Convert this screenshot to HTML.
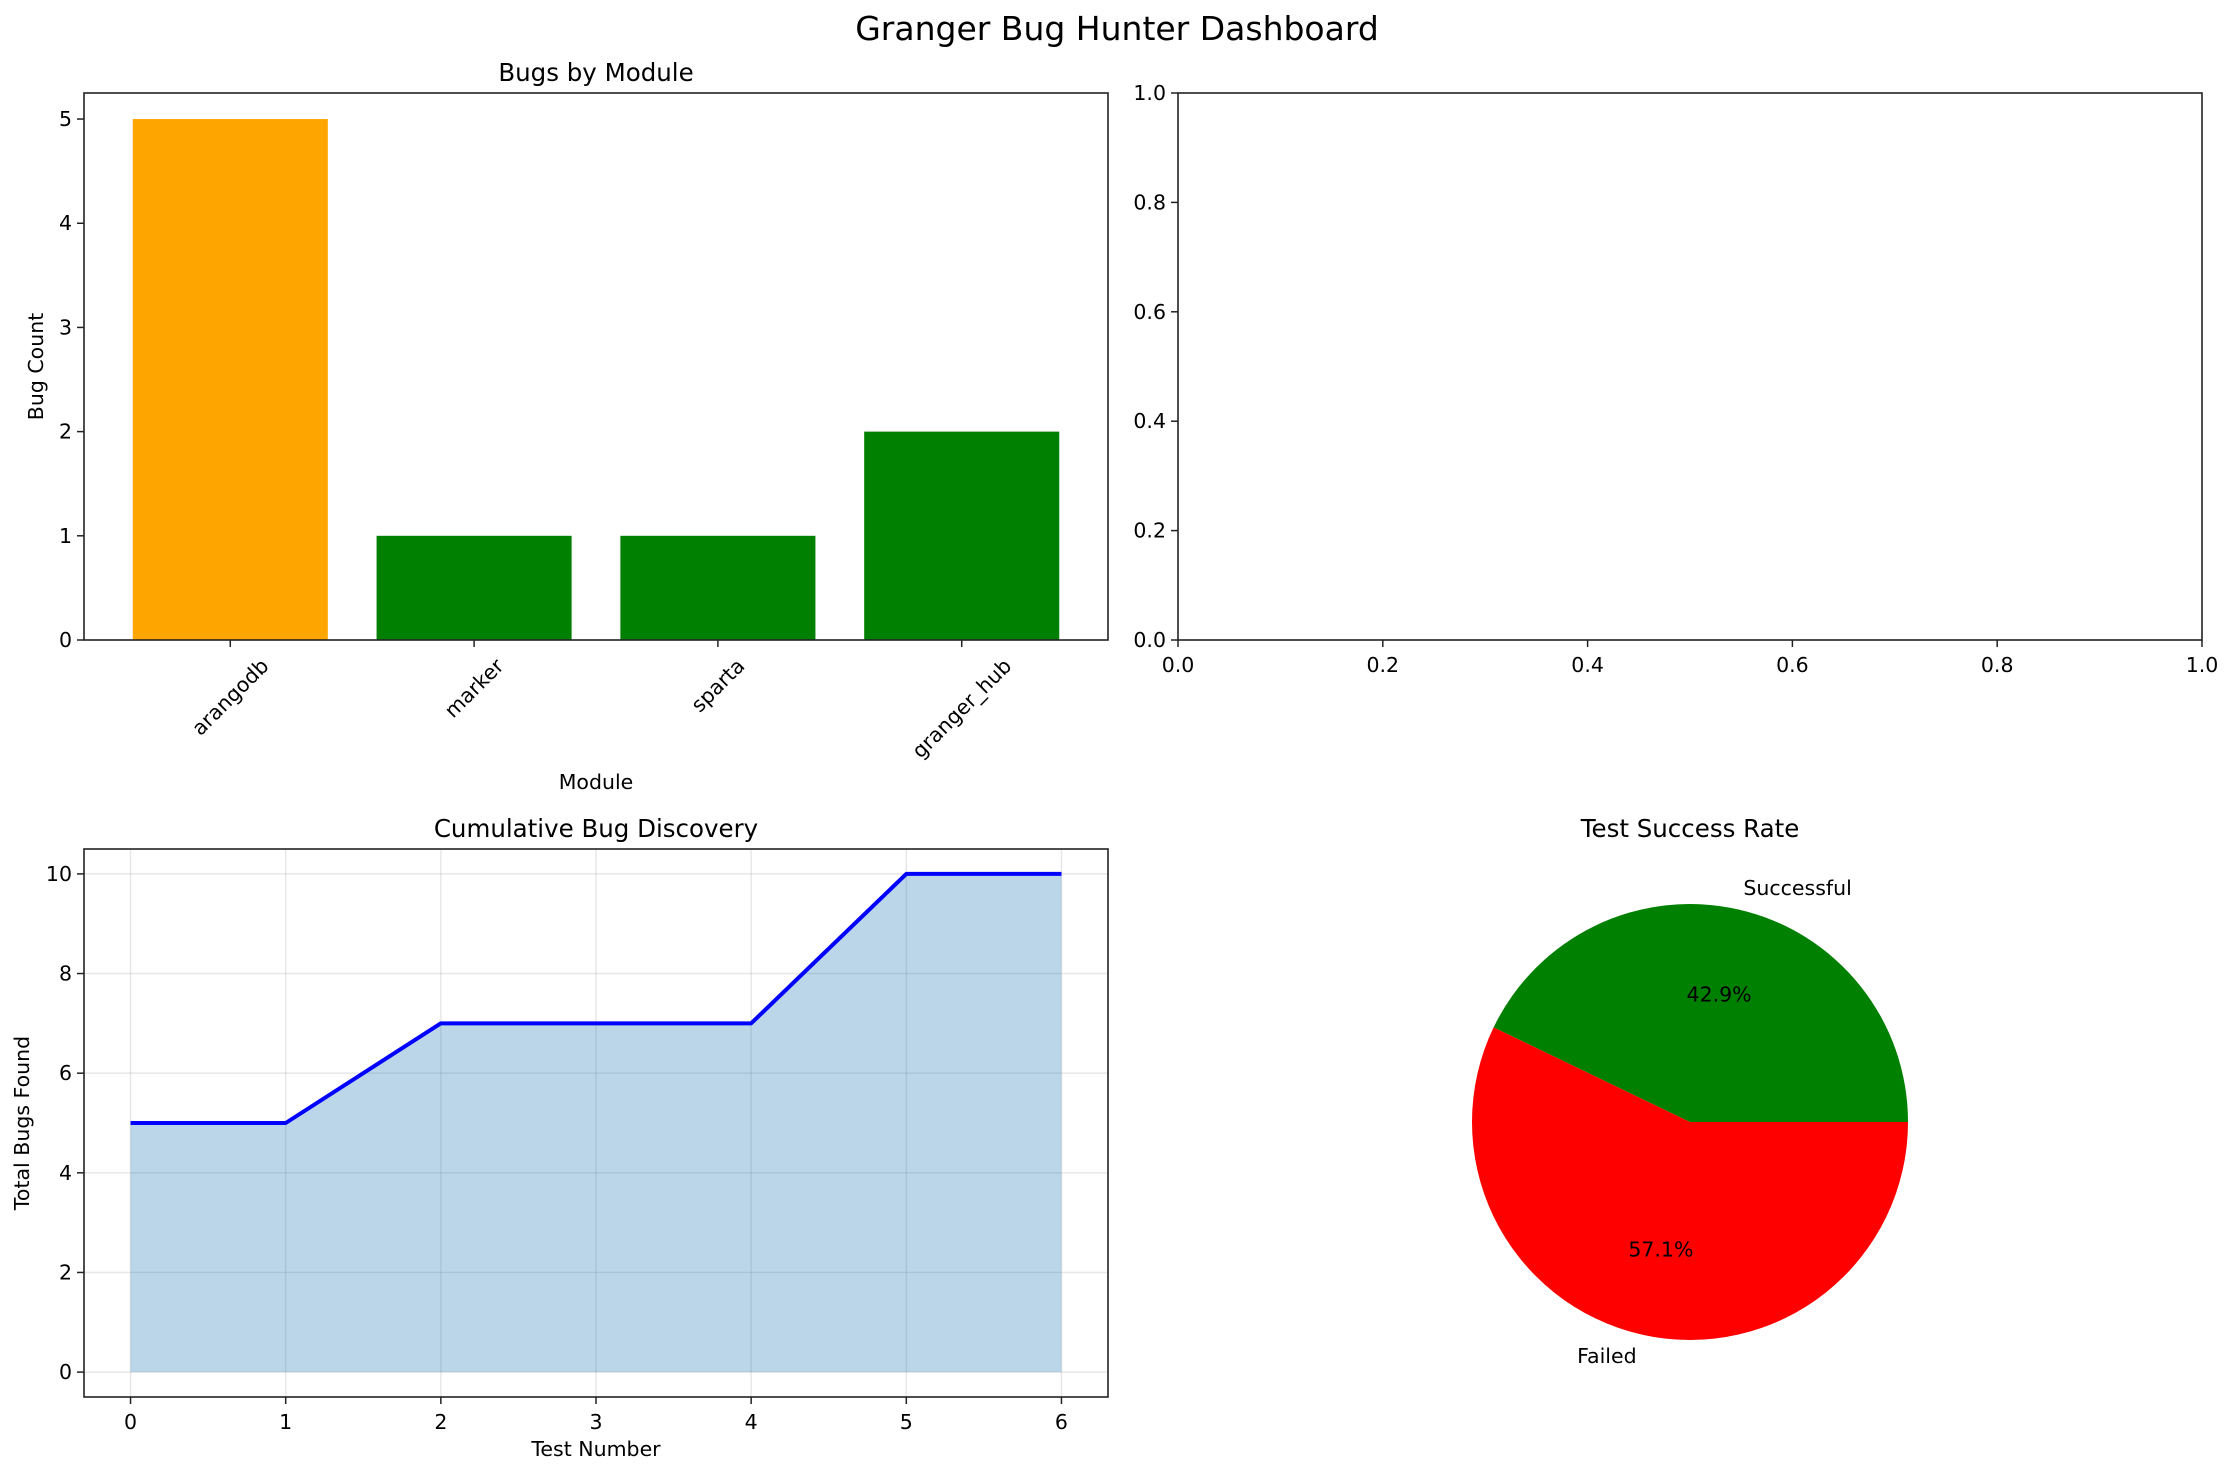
<!DOCTYPE html>
<html><head><meta charset="utf-8"><style>
html,body{margin:0;padding:0;background:#fff;}
svg text{font-family:"DejaVu Sans","Liberation Sans",sans-serif;fill:#000;}
</style></head><body>
<svg id="fig" width="2234" height="1475" viewBox="0 0 2234 1475" xmlns="http://www.w3.org/2000/svg">
<rect width="2234" height="1475" fill="#fff"/>
<text x="1117" y="40" font-size="33" text-anchor="middle">Granger Bug Hunter Dashboard</text>
</svg>
<script>
const modules = ["arangodb","marker","sparta","granger_hub"];
const bugCounts = [5,1,1,2];
const barColors = ["#ffa500","#008000","#008000","#008000"];
const barYTicks = [0,1,2,3,4,5];
const emptyTicks = ["0.0","0.2","0.4","0.6","0.8","1.0"];
const testNumbers = [0,1,2,3,4,5,6];
const cumulativeBugs = [5,5,7,7,7,10,10];
const cumYTicks = [0,2,4,6,8,10];
const pieLabels = ["Successful","Failed"];
const pieValues = [3,4];
const pieColors = ["#008000","#ff0000"];

const NS="http://www.w3.org/2000/svg";
const svg=document.getElementById('fig');
function el(tag,attrs,parent){const e=document.createElementNS(NS,tag);for(const k in attrs)e.setAttribute(k,attrs[k]);(parent||svg).appendChild(e);return e;}
function txt(s,attrs,parent){const e=el('text',attrs,parent);e.textContent=s;return e;}
const TF=20.5, SP="#222";

// ---------- Bar chart ----------
const A1={l:84,r:1108,t:93,b:640};
const bx=v=>A1.l+(v+0.6)/4.2*(A1.r-A1.l);
const by=v=>A1.b-v/5.25*(A1.b-A1.t);
const g1=el('g',{});


modules.forEach((m,i)=>{
  const x0=bx(i-0.4),x1=bx(i+0.4);
  const r=el('rect',{x:x0,y:by(bugCounts[i]),width:x1-x0,height:by(0)-by(bugCounts[i]),fill:barColors[i]},g1);
  
  
  el('line',{x1:bx(i),x2:bx(i),y1:A1.b,y2:A1.b+7,stroke:SP,'stroke-width':1.5},g1);
  const t=txt(m,{x:0,y:0,'font-size':TF,'text-anchor':'middle','dominant-baseline':'central'},g1);
  
  
  const w=t.getComputedTextLength();
  const cy=A1.b+15+(w+TF)*0.354;
  t.setAttribute('transform','translate('+bx(i)+','+cy+') rotate(-45)');
});
barYTicks.forEach(v=>{
  el('line',{x1:A1.l-7,x2:A1.l,y1:by(v),y2:by(v),stroke:SP,'stroke-width':1.5},g1);
  const t=txt(String(v),{x:A1.l-12,y:by(v)+7,'font-size':TF,'text-anchor':'end'},g1);
  
  
});
el('rect',{x:A1.l,y:A1.t,width:A1.r-A1.l,height:A1.b-A1.t,fill:'none',stroke:SP,'stroke-width':1.6},g1);
let t1=txt('Bugs by Module',{x:(A1.l+A1.r)/2,y:81,'font-size':24.5,'text-anchor':'middle'},g1);

t1=txt('Module',{x:(A1.l+A1.r)/2,y:789,'font-size':TF,'text-anchor':'middle'},g1);

t1=txt('Bug Count',{x:0,y:0,'font-size':TF,'text-anchor':'middle',transform:'translate(43,'+((A1.t+A1.b)/2)+') rotate(-90)'},g1);


// ---------- Empty axes ----------
const A2={l:1178,r:2202,t:93,b:640};
const g2=el('g',{});


emptyTicks.forEach((s,i)=>{
  const f=i/5;
  const x=A2.l+f*(A2.r-A2.l), y=A2.b-f*(A2.b-A2.t);
  el('line',{x1:x,x2:x,y1:A2.b,y2:A2.b+7,stroke:SP,'stroke-width':1.5},g2);
  el('line',{x1:A2.l-7,x2:A2.l,y1:y,y2:y,stroke:SP,'stroke-width':1.5},g2);
  const a=txt(s,{x:x,y:A2.b+32,'font-size':TF,'text-anchor':'middle'},g2);
  
  const b=txt(s,{x:A2.l-12,y:y+7,'font-size':TF,'text-anchor':'end'},g2);
  
});
el('rect',{x:A2.l,y:A2.t,width:A2.r-A2.l,height:A2.b-A2.t,fill:'none',stroke:SP,'stroke-width':1.6},g2);

// ---------- Cumulative ----------
const A3={l:84,r:1108,t:849,b:1397};
const cx=v=>A3.l+(v+0.3)/6.6*(A3.r-A3.l);
const cy=v=>A3.b-(v+0.5)/11*(A3.b-A3.t);
const g3=el('g',{});


testNumbers.forEach(v=>el('line',{x1:cx(v),x2:cx(v),y1:A3.t,y2:A3.b,stroke:'#b0b0b0','stroke-opacity':0.3,'stroke-width':1.5},g3));
cumYTicks.forEach(v=>el('line',{x1:A3.l,x2:A3.r,y1:cy(v),y2:cy(v),stroke:'#b0b0b0','stroke-opacity':0.3,'stroke-width':1.5},g3));
let pts=testNumbers.map((x,i)=>cx(x)+','+cy(cumulativeBugs[i])).join(' ');
const area=el('polygon',{points:cx(testNumbers[0])+','+cy(0)+' '+pts+' '+cx(testNumbers[testNumbers.length-1])+','+cy(0),fill:'#1f77b4','fill-opacity':0.3},g3);

const line=el('polyline',{points:pts,fill:'none',stroke:'#0000ff','stroke-width':4,'stroke-linejoin':'round'},g3);

testNumbers.forEach(v=>{
  el('line',{x1:cx(v),x2:cx(v),y1:A3.b,y2:A3.b+7,stroke:SP,'stroke-width':1.5},g3);
  const a=txt(String(v),{x:cx(v),y:A3.b+32,'font-size':TF,'text-anchor':'middle'},g3);
  
});
cumYTicks.forEach(v=>{
  el('line',{x1:A3.l-7,x2:A3.l,y1:cy(v),y2:cy(v),stroke:SP,'stroke-width':1.5},g3);
  const b=txt(String(v),{x:A3.l-12,y:cy(v)+7,'font-size':TF,'text-anchor':'end'},g3);
  
});
el('rect',{x:A3.l,y:A3.t,width:A3.r-A3.l,height:A3.b-A3.t,fill:'none',stroke:SP,'stroke-width':1.6},g3);
t1=txt('Cumulative Bug Discovery',{x:(A3.l+A3.r)/2,y:837,'font-size':24.5,'text-anchor':'middle'},g3);

t1=txt('Test Number',{x:(A3.l+A3.r)/2,y:1456,'font-size':TF,'text-anchor':'middle'},g3);

t1=txt('Total Bugs Found',{x:0,y:0,'font-size':TF,'text-anchor':'middle',transform:'translate(29,'+((A3.t+A3.b)/2)+') rotate(-90)'},g3);


// ---------- Pie ----------
const PC={x:1690,y:1122,r:218};
const g4=el('g',{});


const total=pieValues.reduce((a,b)=>a+b,0);
let ang=0;
pieValues.forEach((v,i)=>{
  const a0=ang, a1=ang+v/total*2*Math.PI; ang=a1;
  const p=(a)=>[PC.x+PC.r*Math.cos(a),PC.y-PC.r*Math.sin(a)];
  const s=p(a0),e=p(a1),large=(a1-a0)>Math.PI?1:0;
  const w=el('path',{d:'M'+PC.x+','+PC.y+' L'+s[0]+','+s[1]+' A'+PC.r+','+PC.r+' 0 '+large+' 0 '+e[0]+','+e[1]+' Z',fill:pieColors[i]},g4);
  
  
  const m=(a0+a1)/2;
  const lx=PC.x+1.1*PC.r*Math.cos(m), ly=PC.y-1.1*PC.r*Math.sin(m);
  const lab=txt(pieLabels[i],{x:lx,y:ly,'font-size':TF,'text-anchor':Math.cos(m)>=0?'start':'end','dominant-baseline':'central'},g4);
  
  
  const px=PC.x+0.6*PC.r*Math.cos(m), py=PC.y-0.6*PC.r*Math.sin(m);
  const pct=txt((v/total*100).toFixed(1)+'%',{x:px,y:py,'font-size':TF,'text-anchor':'middle','dominant-baseline':'central'},g4);
  
  
});
t1=txt('Test Success Rate',{x:PC.x,y:837,'font-size':24.5,'text-anchor':'middle'},g4);

</script>
</body></html>
